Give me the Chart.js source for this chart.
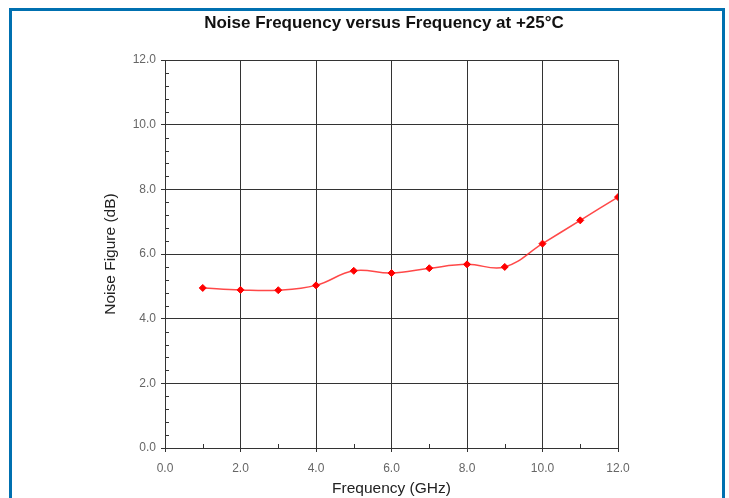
<!DOCTYPE html>
<html>
<head>
<meta charset="utf-8">
<script src="https://cdn.jsdelivr.net/npm/chart.js@4.4.1/dist/chart.umd.min.js"></script>
<style>
  html, body { margin: 0; padding: 0; background: #fff; overflow: hidden; }
  #frame {
    position: absolute; left: 9px; top: 8px; width: 716px; height: 520px;
    box-sizing: border-box; border: 3px solid #0070b0;
  }
  #wrap { position: absolute; left: 0; top: 0; width: 729px; height: 498px; }
</style>
</head>
<body>
<div id="frame"></div>
<div id="wrap"><canvas id="myChart" width="729" height="498"></canvas></div>
<script>
// frequency (GHz) and noise figure (dB)
const freqGHz = [1, 2, 3, 4, 5, 6, 7, 8, 9, 10, 11, 12];
const noiseFigure = [4.95, 4.89, 4.88, 5.03, 5.48, 5.41, 5.56, 5.68, 5.60, 6.32, 7.04, 7.76];
const xTicks = [0, 2, 4, 6, 8, 10, 12];
const yTicks = [0, 2, 4, 6, 8, 10, 12];
const chartTitle = 'Noise Frequency versus Frequency at +25°C';

const points = freqGHz.map(function(f, i) { return { x: f, y: noiseFigure[i] }; });

// small inward minor ticks, like the original plot
const minorTicks = {
    id: 'minorTicks',
    afterDatasetsDraw: function(chart) {
        const ctx = chart.ctx;
        const xs = chart.scales.x, ys = chart.scales.y;
        const area = chart.chartArea;
        ctx.save();
        ctx.strokeStyle = '#333';
        ctx.lineWidth = 1;
        ctx.beginPath();
        for (let v = 0.4; v < 12; v += 0.4) {
            if (Math.abs(v / 2 - Math.round(v / 2)) < 0.01) continue;
            const py = Math.round(ys.getPixelForValue(v)) + 0.5;
            ctx.moveTo(area.left, py);
            ctx.lineTo(area.left + 4, py);
        }
        for (let v = 1; v < 12; v += 2) {
            const px = Math.round(xs.getPixelForValue(v)) + 0.5;
            ctx.moveTo(px, area.bottom);
            ctx.lineTo(px, area.bottom - 4);
        }
        ctx.stroke();
        ctx.restore();
    }
};

// title sits a bit right of the plot centre in the original
const topTitle = {
    id: 'topTitle',
    afterDraw: function(chart) {
        const ctx = chart.ctx;
        ctx.save();
        ctx.fillStyle = '#111';
        ctx.font = 'bold 17px "Liberation Sans", Arial, sans-serif';
        ctx.textAlign = 'center';
        ctx.textBaseline = 'middle';
        ctx.fillText(chartTitle, 384, 23);
        ctx.restore();
    }
};

var ctx = document.getElementById('myChart').getContext('2d');
window.myChart = new Chart(ctx, {
    type: 'line',
    data: {
        datasets: [
            {
                data: points,
                label: 'Noise Figure',
                borderColor: 'rgba(255,40,40,0.85)',
                borderWidth: 1.5,
                backgroundColor: '#ff0000',
                pointBackgroundColor: '#ff0000',
                pointBorderColor: '#ff0000',
                pointStyle: 'rectRot',
                pointRadius: 3.5,
                pointBorderWidth: 1,
                tension: 0.4,
                fill: false
            }
        ]
    },
    options: {
        responsive: false,
        animation: false,
        events: [],
        layout: { padding: { left: 95, right: 111, top: 60, bottom: 0 } },
        plugins: {
            legend: { display: false },
            tooltip: { enabled: false },
            title: { display: false }
        },
        scales: {
            x: {
                type: 'linear',
                min: 0,
                max: 12,
                afterBuildTicks: function(scale) {
                    scale.ticks = xTicks.map(function(v) { return { value: v }; });
                },
                afterFit: function(scale) { scale.height = 50; },
                grid: { color: '#333', lineWidth: 1, tickLength: 4, drawTicks: true },
                border: { color: '#333', width: 1 },
                ticks: {
                    color: '#666',
                    padding: 9,
                    font: { family: 'Liberation Sans, Arial, sans-serif', size: 12 },
                    callback: function(v) { return v.toFixed(1); }
                },
                title: {
                    display: true,
                    text: 'Frequency (GHz)',
                    color: '#222',
                    font: { family: 'Liberation Sans, Arial, sans-serif', size: 15.5 },
                    padding: { top: 0, bottom: 0 }
                }
            },
            y: {
                type: 'linear',
                min: 0,
                max: 12,
                afterBuildTicks: function(scale) {
                    scale.ticks = yTicks.map(function(v) { return { value: v }; });
                },
                afterFit: function(scale) { scale.width = 70; },
                grid: { color: '#333', lineWidth: 1, tickLength: 4, drawTicks: true },
                border: { color: '#333', width: 1 },
                ticks: {
                    color: '#666',
                    padding: 5,
                    font: { family: 'Liberation Sans, Arial, sans-serif', size: 12 },
                    callback: function(v) { return v.toFixed(1); }
                },
                title: {
                    display: true,
                    text: 'Noise Figure (dB)',
                    color: '#222',
                    font: { family: 'Liberation Sans, Arial, sans-serif', size: 15.5 },
                    padding: { top: 6, bottom: 0 }
                }
            }
        }
    },
    plugins: [minorTicks, topTitle]
});
</script>
</body>
</html>
